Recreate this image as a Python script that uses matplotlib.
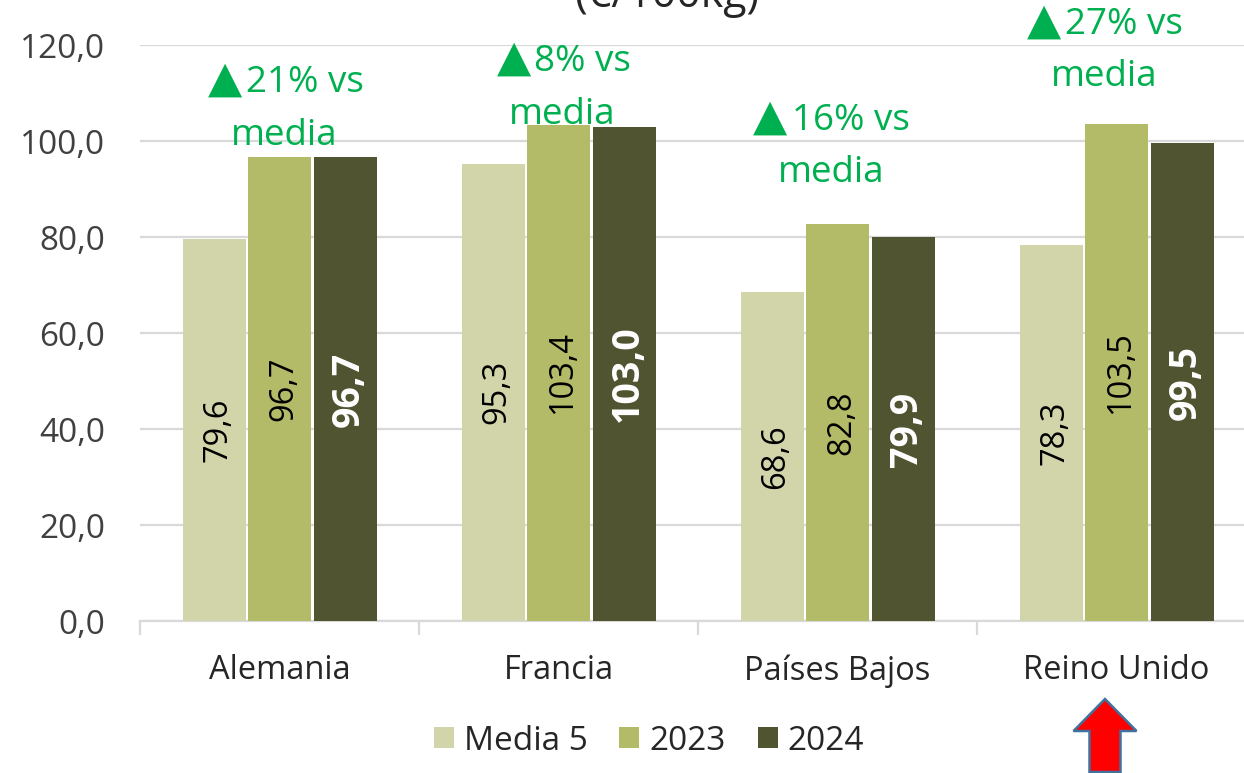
import matplotlib
matplotlib.use("Agg")
import matplotlib.pyplot as plt
from matplotlib.patches import FancyArrow
from matplotlib.transforms import ScaledTranslation
import numpy as np

categories = ["Alemania", "Francia", "Países Bajos", "Reino Unido"]
media5 = [79.6, 95.3, 68.6, 78.3]
y2023 = [96.7, 103.4, 82.8, 103.5]
y2024 = [96.7, 103.0, 79.9, 99.5]
series_names = ["Media 5", "2023", "2024"]
notes_top = ["21% vs", "8% vs", "16% vs", "27% vs"]
notes_bottom = ["media", "media", "media", "media"]
labels_m = ["79,6", "95,3", "68,6", "78,3"]
labels_23 = ["96,7", "103,4", "82,8", "103,5"]
labels_24 = ["96,7", "103,0", "79,9", "99,5"]

W, H = 1244, 773
plt.rcParams['font.family'] = ['Open Sans', 'DejaVu Sans']
fig = plt.figure(figsize=(W/100, H/100), dpi=100)
ax = fig.add_axes([140/W, 1-621/H, (1256-140)/W, (621-45)/H])
ax.set_xlim(0, 4)
ax.set_ylim(0, 120)
ax.set_facecolor("white")
x = np.arange(4) + 0.5
bw = 63/279
step = 65.5/279
cols = ["#D2D5AA", "#B3BA68", "#505430"]
for off, vals, c, n in zip([-step, 0, step], [media5, y2023, y2024], cols, series_names):
    ax.bar(x+off, vals, bw, color=c, label=n, zorder=3)
ax.set_yticks(range(0, 121, 20))
ax.set_yticklabels([f"{v},0" for v in range(0, 121, 20)], fontsize=24, color="#404040")
shift = ScaledTranslation(0, 2/100, fig.dpi_scale_trans)
for lab in ax.get_yticklabels():
    lab.set_transform(lab.get_transform() + shift)
ax.yaxis.grid(True, color="#D9D9D9", lw=1.6, zorder=0)
ax.set_xticks(range(5))
ax.set_xticklabels([])
ax.tick_params(axis='y', length=0, pad=25)
ax.tick_params(axis='x', length=10, color="#D9D9D9", width=1.6, direction='out')
for s in ["top", "right", "left"]:
    ax.spines[s].set_visible(False)
ax.spines["bottom"].set_color("#D9D9D9")
ax.spines["bottom"].set_linewidth(1.6)
for xi, c in zip(x, categories):
    ax.text(xi, -10.4, c, ha="center", va="center", fontsize=23.5, color="#262626")
dx = 4/279
for i, xi in enumerate(x):
    ax.text(xi-step+dx, media5[i]/2, labels_m[i], rotation=90, ha="center", va="center", fontsize=23.5, color="black", zorder=4)
    ax.text(xi+dx, y2023[i]/2, labels_23[i], rotation=90, ha="center", va="center", fontsize=23.5, color="black", zorder=4)
    ax.text(xi+step+dx, y2024[i]/2, labels_24[i], rotation=90, ha="center", va="center", fontsize=27, fontweight="bold", color="white", zorder=4)

tri_x = [225, 514, 770, 1044]
top_x = [246, 534, 792, 1065]
mid_x = [284, 562, 831, 1104]
top_y = [83, 62, 121, 25]
bot_y = [136, 115, 173, 77]
tri_y = [79, 58, 117, 21]
green = "#00B050"
for i in range(4):
    fig.text(tri_x[i]/W, 1-tri_y[i]/H, "▲", ha="center", va="center", fontsize=32, color=green, family=['DejaVu Sans'])
    fig.text(top_x[i]/W, 1-top_y[i]/H, notes_top[i], ha="left", va="center", fontsize=26.5, color=green)
    fig.text(mid_x[i]/W, 1-bot_y[i]/H, notes_bottom[i], ha="center", va="center", fontsize=26.5, color=green)

fig.text(667/W, 1-(-4)/H, "(€/100kg)", ha="center", va="center", fontsize=31, color="#262626")

leg = ax.legend(loc="center", bbox_to_anchor=(649/W, 1-741/H), bbox_transform=fig.transFigure, ncol=3,
                frameon=False, fontsize=24, handlelength=0.6, handleheight=0.6, handletextpad=0.3, columnspacing=0.95, labelcolor="#262626")

fig.patches.append(FancyArrow(1105/W, 1-772/H, 0, 73/H, width=31/W, head_width=63/W, head_length=32/H,
                              length_includes_head=True, transform=fig.transFigure, facecolor="#FF0000", edgecolor="#41719C", lw=1.8))
fig.savefig("out.png", dpi=100, facecolor="white")
